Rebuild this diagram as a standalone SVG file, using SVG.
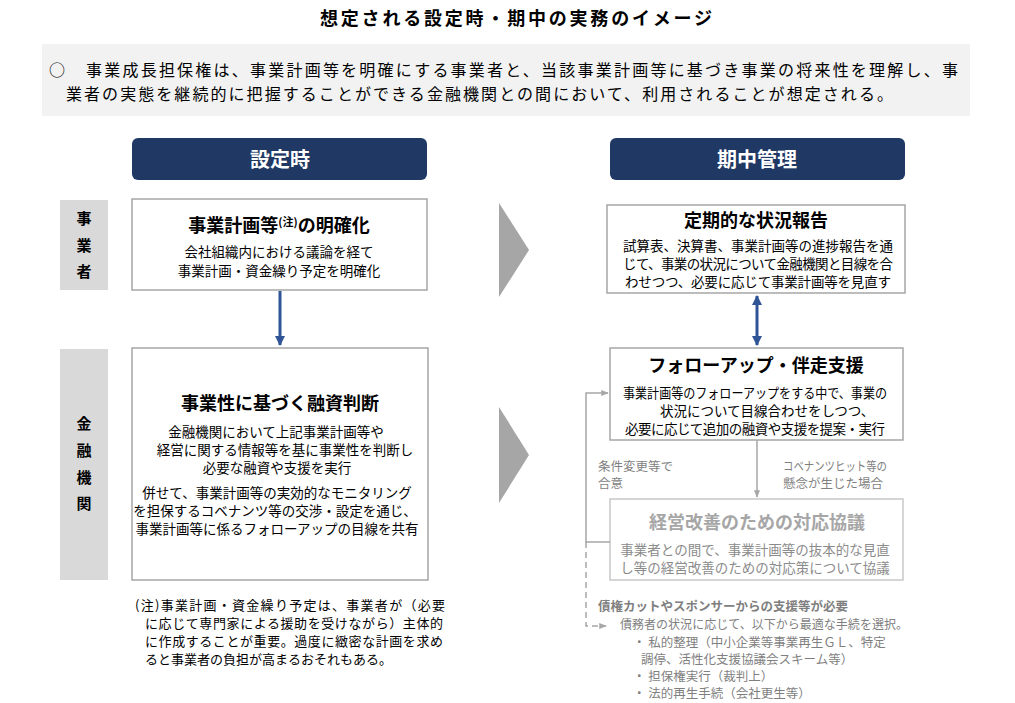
<svg xmlns="http://www.w3.org/2000/svg" width="1015" height="703" viewBox="0 0 1015 703">
<defs>
<style>
text{font-family:"Noto Sans CJK JP","Noto Sans",sans-serif;}
.title{font-size:18px;font-weight:bold;fill:#000;}
.lead{font-size:16px;fill:#000;}
.hdr{font-size:20px;font-weight:bold;fill:#fff;text-anchor:middle;}
.lbl{font-size:15px;font-weight:bold;fill:#000;text-anchor:middle;}
.bt{font-size:18px;font-weight:bold;fill:#000;text-anchor:middle;}
.bd{font-size:13.5px;fill:#000;text-anchor:middle;}
.bl{font-size:13.5px;fill:#000;}
.gt{font-size:18px;font-weight:bold;fill:#a6a6a6;text-anchor:middle;}
.gd{font-size:13.5px;fill:#8c8c8c;text-anchor:middle;}
.gl{font-size:12.5px;fill:#7f7f7f;}
.note{font-size:13px;fill:#000;}
.box{fill:#fff;stroke:#a6a6a6;stroke-width:1.5;}
.gbox{fill:#fff;stroke:#c8c8c8;stroke-width:1.5;}
.lab{fill:#d9d9d9;}
.hd{fill:#203864;}
.chev{fill:#a6a6a6;}
.blue{stroke:#2f5597;stroke-width:3;fill:none;}
.gray{stroke:#a6a6a6;stroke-width:1.5;fill:none;}
.dash{stroke:#a6a6a6;stroke-width:1.5;fill:none;stroke-dasharray:6 4;}
</style>
<marker id="bh" viewBox="0 0 10 10" refX="9" refY="5" markerWidth="3.4" markerHeight="3.4" orient="auto-start-reverse"><path d="M0,0 L10,5 L0,10 z" fill="#2f5597"/></marker>
<marker id="gh" viewBox="0 0 10 10" refX="9" refY="5" markerWidth="5" markerHeight="5" orient="auto"><path d="M0,1 L10,5 L0,9 z" fill="#a6a6a6"/></marker>
</defs>
<rect width="1015" height="703" fill="#fff"/>

<text class="title" x="320" y="25" textLength="392" lengthAdjust="spacing">想定される設定時・期中の実務のイメージ</text>

<g id="lead">
<rect x="42" y="44" width="928" height="72" fill="#f2f2f2"/>
<text class="lead" x="49" y="76">○</text>
<text class="lead" x="86" y="76" textLength="872" lengthAdjust="spacing">事業成長担保権は、事業計画等を明確にする事業者と、当該事業計画等に基づき事業の将来性を理解し、事</text>
<text class="lead" x="66" y="100" textLength="827" lengthAdjust="spacing">業者の実態を継続的に把握することができる金融機関との間において、利用されることが想定される。</text>
</g>

<g id="hdr-settei"><rect class="hd" x="132" y="138" width="295" height="42" rx="6"/><text class="hdr" x="280" y="167">設定時</text></g>
<g id="hdr-kichu"><rect class="hd" x="610" y="138" width="295" height="42" rx="6"/><text class="hdr" x="757" y="167">期中管理</text></g>

<g id="lab-jigyosha"><rect class="lab" x="60" y="200" width="48" height="90"/>
<text class="lbl" x="84" y="224">事</text><text class="lbl" x="84" y="251">業</text><text class="lbl" x="84" y="277">者</text></g>
<g id="lab-kinyu"><rect class="lab" x="60" y="349" width="48" height="231"/>
<text class="lbl" x="84" y="429">金</text><text class="lbl" x="84" y="456">融</text><text class="lbl" x="84" y="483">機</text><text class="lbl" x="84" y="509">関</text></g>

<g id="chevrons">
<polygon class="chev" points="499,203 529,250 499,297"/>
<polygon class="chev" points="499,407 529,455 499,503"/>
</g>

<g id="box-meikaku">
<rect class="box" x="132" y="199" width="295" height="91"/>
<text class="bt" x="279" y="232">事業計画等<tspan font-size="11" dy="-6">(注)</tspan><tspan dy="6">の明確化</tspan></text>
<text class="bd" x="279" y="257">会社組織内における議論を経て</text>
<text class="bd" x="279" y="276">事業計画・資金繰り予定を明確化</text>
</g>

<g id="box-yushi">
<rect class="box" x="132" y="348" width="296" height="232"/>
<text class="bt" x="280" y="410">事業性に基づく融資判断</text>
<text class="bd" x="276" y="437">金融機関において上記事業計画等や</text>
<text class="bd" x="285" y="455">経営に関する情報等を基に事業性を判断し</text>
<text class="bd" x="277" y="473">必要な融資や支援を実行</text>
<text class="bd" x="277" y="498">併せて、事業計画等の実効的なモニタリング</text>
<text class="bd" x="275" y="516">を担保するコベナンツ等の交渉・設定を通じ、</text>
<text class="bd" x="277" y="534">事業計画等に係るフォローアップの目線を共有</text>
</g>

<g id="box-hokoku">
<rect class="box" x="607" y="205" width="298" height="88"/>
<text class="bt" x="756" y="227">定期的な状況報告</text>
<text class="bl" x="623" y="251" textLength="270" lengthAdjust="spacing">試算表、決算書、事業計画等の進捗報告を通</text>
<text class="bl" x="623" y="269" textLength="270" lengthAdjust="spacing">じて、事業の状況について金融機関と目線を合</text>
<text class="bl" x="625" y="287" textLength="266" lengthAdjust="spacing">わせつつ、必要に応じて事業計画等を見直す</text>
</g>

<g id="box-followup">
<rect class="box" x="610" y="348" width="293" height="92"/>
<text class="bt" x="756" y="372">フォローアップ・伴走支援</text>
<text class="bl" x="623" y="398" textLength="264" lengthAdjust="spacingAndGlyphs">事業計画等のフォローアップをする中で、事業の</text>
<text class="bl" x="660" y="416">状況について目線合わせをしつつ、</text>
<text class="bl" x="625" y="434" textLength="260" lengthAdjust="spacing">必要に応じて追加の融資や支援を提案・実行</text>
</g>

<g id="box-kaizen">
<rect class="gbox" x="610" y="499" width="293" height="81"/>
<text class="gt" x="757" y="529">経営改善のための対応協議</text>
<text class="gd" x="755" y="555">事業者との間で、事業計画等の抜本的な見直</text>
<text class="gd" x="755" y="573">し等の経営改善のための対応策について協議</text>
</g>

<g id="connectors">
<line class="blue" x1="280" y1="291" x2="280" y2="345" marker-end="url(#bh)"/>
<line class="blue" x1="757" y1="296" x2="757" y2="345" marker-start="url(#bh)" marker-end="url(#bh)"/>
<line class="gray" x1="757" y1="440" x2="757" y2="497" marker-end="url(#gh)"/>
<polyline class="gray" points="610,542 586,542 586,393 608,393" marker-end="url(#gh)"/>
<polyline class="dash" points="586,542 586,626 606,626" marker-end="url(#gh)"/>
</g>

<g id="labels">
<text class="gl" x="598" y="471">条件変更等で</text>
<text class="gl" x="598" y="488">合意</text>
<text class="gl" x="783" y="471" textLength="104" lengthAdjust="spacingAndGlyphs">コベナンツヒット等の</text>
<text class="gl" x="783" y="488">懸念が生じた場合</text>
</g>

<g id="note">
<text class="note" x="135" y="610" textLength="310" lengthAdjust="spacing">(注)事業計画・資金繰り予定は、事業者が（必要</text>
<text class="note" x="145" y="628" textLength="298" lengthAdjust="spacing">に応じて専門家による援助を受けながら）主体的</text>
<text class="note" x="145" y="646" textLength="298" lengthAdjust="spacing">に作成することが重要。過度に緻密な計画を求め</text>
<text class="note" x="145" y="664">ると事業者の負担が高まるおそれもある。</text>
</g>

<g id="saiken">
<text class="gl" x="598" y="611" font-weight="bold">債権カットやスポンサーからの支援等が必要</text>
<text class="gl" x="620" y="629" textLength="288" lengthAdjust="spacingAndGlyphs">債務者の状況に応じて、以下から最適な手続を選択。</text>
<text class="gl" x="633" y="647">・ 私的整理（中小企業等事業再生ＧＬ、特定</text>
<text class="gl" x="641" y="664">調停、活性化支援協議会スキーム等）</text>
<text class="gl" x="633" y="681">・ 担保権実行（裁判上）</text>
<text class="gl" x="633" y="698">・ 法的再生手続（会社更生等）</text>
</g>
</svg>
